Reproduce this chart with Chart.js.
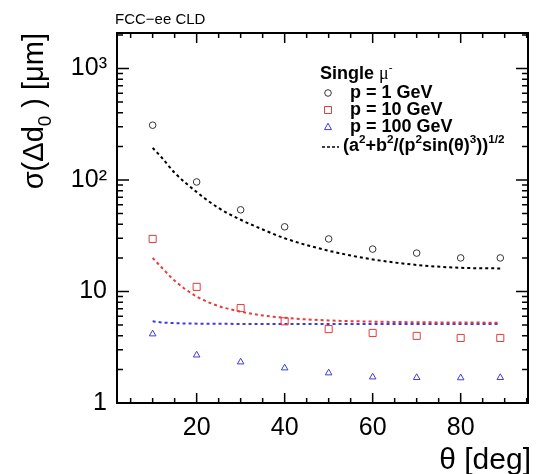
<!DOCTYPE html>
<html>
<head>
<meta charset="utf-8">
<script src="https://cdn.jsdelivr.net/npm/chart.js@4"></script>
<style>
  body { margin: 0; background: #fff; }
  #wrap { width: 537px; height: 474px; position: relative; }
</style>
</head>
<body>
<div id="wrap"><canvas id="resChart"></canvas></div>
<script>
const thetaPoints = [10, 20, 30, 40, 50, 60, 70, 80, 89];
const sigma1GeV = [310, 96, 54, 38, 29.6, 24, 22.1, 20, 20];
const sigma10GeV = [29.6, 11.0, 7.1, 5.4, 4.6, 4.25, 4.0, 3.83, 3.83];
const sigma100GeV = [4.16, 2.69, 2.33, 2.06, 1.86, 1.71, 1.69, 1.68, 1.69];

// dashed parametrisation curves
const thetaFit = [10, 12, 15, 20, 25, 30, 35, 40, 50, 60, 70, 80, 89];
const fit1GeV = [194, 160, 116, 78, 56, 44, 36, 30, 23.2, 19.4, 17.3, 16.3, 16.1];
const fit10GeV = [20, 16.5, 12.5, 9.0, 7.4, 6.6, 6.1, 5.8, 5.5, 5.37, 5.3, 5.27, 5.25];
const fit100GeV = [5.4, 5.28, 5.2, 5.15, 5.13, 5.12, 5.11, 5.11, 5.11, 5.11, 5.11, 5.11, 5.11];

const xTickValues = [20, 40, 60, 80];
const yTickValues = [1, 10, 100, 1000];
const yTickLabels = ["1", "10", "10\u00B2", "10\u00B3"];

const BLACK = "#333333";
const RED = "rgb(230,60,60)";
const BLUE = "rgb(60,60,220)";

const toXY = (xs, ys) => xs.map((x, i) => ({ x: x, y: ys[i] }));

function pointSet(label, ys, color, style, r) {
    return {
        label: label,
        data: toXY(thetaPoints, ys),
        showLine: false,
        pointStyle: style,
        pointRadius: r,
        pointBorderWidth: 1,
        pointBorderColor: color,
        pointBackgroundColor: "rgba(0,0,0,0)",
        borderColor: color
    };
}

function fitSet(ys, color) {
    return {
        label: "fit",
        data: toXY(thetaFit, ys),
        showLine: true,
        pointRadius: 0,
        borderColor: color,
        borderWidth: 2,
        borderDash: [3, 3],
        cubicInterpolationMode: "monotone",
        fill: false
    };
}

// draw text pieces with super/subscripts
function drawRich(ctx, x, y, parts, size, weight, family) {
    let cx = x;
    parts.forEach(p => {
        const s = p.sup || p.sub ? size * 0.65 : size;
        const fam = p.family || family;
        const w = p.weight || weight;
        ctx.font = w + " " + s + "px " + fam;
        let dy = 0;
        if (p.sup) dy = -size * 0.42;
        if (p.sub) dy = size * 0.28;
        ctx.fillText(p.t, cx, y + dy);
        cx += ctx.measureText(p.t).width;
    });
    return cx - x;
}

function richWidth(ctx, parts, size, weight, family) {
    let w = 0;
    parts.forEach(p => {
        const s = p.sup || p.sub ? size * 0.65 : size;
        ctx.font = (p.weight || weight) + " " + s + "px " + (p.family || family);
        w += ctx.measureText(p.t).width;
    });
    return w;
}

const SANS = "'Liberation Sans', Arial, sans-serif";

const frameAndDecor = {
    id: "frameAndDecor",
    afterDraw(chart) {
        const ctx = chart.ctx;
        const a = chart.chartArea;
        const xs = chart.scales.x;
        const ys = chart.scales.y;
        ctx.save();

        // frame
        ctx.strokeStyle = "#000";
        ctx.lineWidth = 2;
        ctx.strokeRect(a.left, a.top, a.right - a.left, a.bottom - a.top);

        // x ticks (inside, bottom and top)
        ctx.lineWidth = 1.5;
        ctx.beginPath();
        for (let v = 5; v <= 95; v += 5) {
            const px = xs.getPixelForValue(v);
            if (px <= a.left + 1 || px >= a.right - 1) continue;
            const len = v % 20 === 0 ? 10 : 5;
            ctx.moveTo(px, a.bottom); ctx.lineTo(px, a.bottom - len);
            ctx.moveTo(px, a.top); ctx.lineTo(px, a.top + len);
        }
        // y ticks (inside, left and right)
        for (let d = 1; d <= 1000; d *= 10) {
            for (let m = 1; m <= 9; m++) {
                const v = d * m;
                if (v > ys.max) break;
                const py = ys.getPixelForValue(v);
                if (py <= a.top + 1 || py >= a.bottom) continue;
                const len = m === 1 ? 12 : 6;
                ctx.moveTo(a.left, py); ctx.lineTo(a.left + len, py);
                ctx.moveTo(a.right, py); ctx.lineTo(a.right - len, py);
            }
        }
        ctx.stroke();

        ctx.fillStyle = "#000";
        ctx.textBaseline = "alphabetic";
        ctx.textAlign = "left";

        // header
        ctx.font = "15px " + SANS;
        ctx.fillText("FCC\u2212ee CLD", 115, 24);

        // x title
        ctx.font = "30px " + SANS;
        ctx.textAlign = "right";
        ctx.fillText("\u03B8 [deg]", a.right + 3, 469);
        ctx.textAlign = "left";

        // y title, rotated, right-aligned at the top
        const yParts = [
            { t: "\u03C3(\u0394d" }, { t: "0", sub: true }, { t: " ) [\u03BCm]" }
        ];
        const yw = richWidth(ctx, yParts, 29, "normal", SANS);
        ctx.save();
        ctx.translate(43, a.top);
        ctx.rotate(-Math.PI / 2);
        drawRich(ctx, -yw, 0, yParts, 29, "normal", SANS);
        ctx.restore();

        // legend
        const lx = 320, tx = 350, fs = 18;
        drawRich(ctx, lx, 79, [
            { t: "Single " },
            { t: "\u03BC", weight: "normal", family: "'Liberation Serif', serif" },
            { t: "-", sup: true, weight: "normal" }
        ], fs, "bold", SANS);

        const rows = [
            { y: 98, style: "circle", color: BLACK, label: "p = 1 GeV" },
            { y: 115, style: "rect", color: RED, label: "p = 10 GeV" },
            { y: 132, style: "triangle", color: BLUE, label: "p = 100 GeV" }
        ];
        ctx.lineWidth = 1;
        rows.forEach(r => {
            ctx.strokeStyle = r.color;
            const cy = r.y - 5;
            ctx.beginPath();
            if (r.style === "circle") {
                ctx.arc(328, cy, 3.3, 0, Math.PI * 2);
            } else if (r.style === "rect") {
                ctx.rect(324.5, cy - 3.5, 7, 7);
            } else {
                ctx.moveTo(328, cy - 3.8);
                ctx.lineTo(331.5, cy + 2.6);
                ctx.lineTo(324.5, cy + 2.6);
                ctx.closePath();
            }
            ctx.stroke();
            ctx.fillStyle = "#000";
            ctx.font = "bold " + fs + "px " + SANS;
            ctx.fillText(r.label, tx, r.y);
        });

        ctx.strokeStyle = "#000";
        ctx.lineWidth = 1.5;
        ctx.setLineDash([3, 2]);
        ctx.beginPath();
        ctx.moveTo(322, 147); ctx.lineTo(339, 147);
        ctx.stroke();
        ctx.setLineDash([]);
        drawRich(ctx, 343, 151, [
            { t: "(a" }, { t: "2", sup: true }, { t: "+b" }, { t: "2", sup: true },
            { t: "/(p" }, { t: "2", sup: true }, { t: "sin(\u03B8)" }, { t: "3", sup: true },
            { t: "))" }, { t: "1/2", sup: true }
        ], fs, "bold", SANS);

        ctx.restore();
    }
};

new Chart(document.getElementById("resChart"), {
    type: "scatter",
    data: {
        datasets: [
            pointSet("p = 1 GeV", sigma1GeV, BLACK, "circle", 3.3),
            pointSet("p = 10 GeV", sigma10GeV, RED, "rect", 5),
            pointSet("p = 100 GeV", sigma100GeV, BLUE, "triangle", 3.8),
            fitSet(fit1GeV, "#000"),
            fitSet(fit10GeV, RED),
            fitSet(fit100GeV, BLUE)
        ]
    },
    options: {
        responsive: true,
        maintainAspectRatio: false,
        animation: false,
        layout: { padding: { top: 33, right: 9, left: 0, bottom: 0 } },
        plugins: {
            legend: { display: false },
            tooltip: { enabled: false }
        },
        scales: {
            x: {
                type: "linear",
                min: 1.9,
                max: 95.3,
                grid: { display: false, drawTicks: false },
                border: { display: false },
                afterBuildTicks: s => { s.ticks = xTickValues.map(v => ({ value: v })); },
                afterFit: s => { s.height = 71; },
                ticks: {
                    autoSkip: false,
                    maxRotation: 0,
                    padding: 10,
                    color: "#000",
                    font: { family: SANS, size: 25 },
                    callback: v => String(v)
                }
            },
            y: {
                type: "logarithmic",
                min: 1,
                max: 2080,
                grid: { display: false, drawTicks: false },
                border: { display: false },
                afterBuildTicks: s => { s.ticks = yTickValues.map(v => ({ value: v })); },
                afterFit: s => { s.width = 117; },
                ticks: {
                    autoSkip: false,
                    padding: 10,
                    color: "#000",
                    font: { family: SANS, size: 25 },
                    callback: v => yTickLabels[yTickValues.indexOf(v)]
                }
            }
        }
    },
    plugins: [frameAndDecor]
});
</script>
</body>
</html>
